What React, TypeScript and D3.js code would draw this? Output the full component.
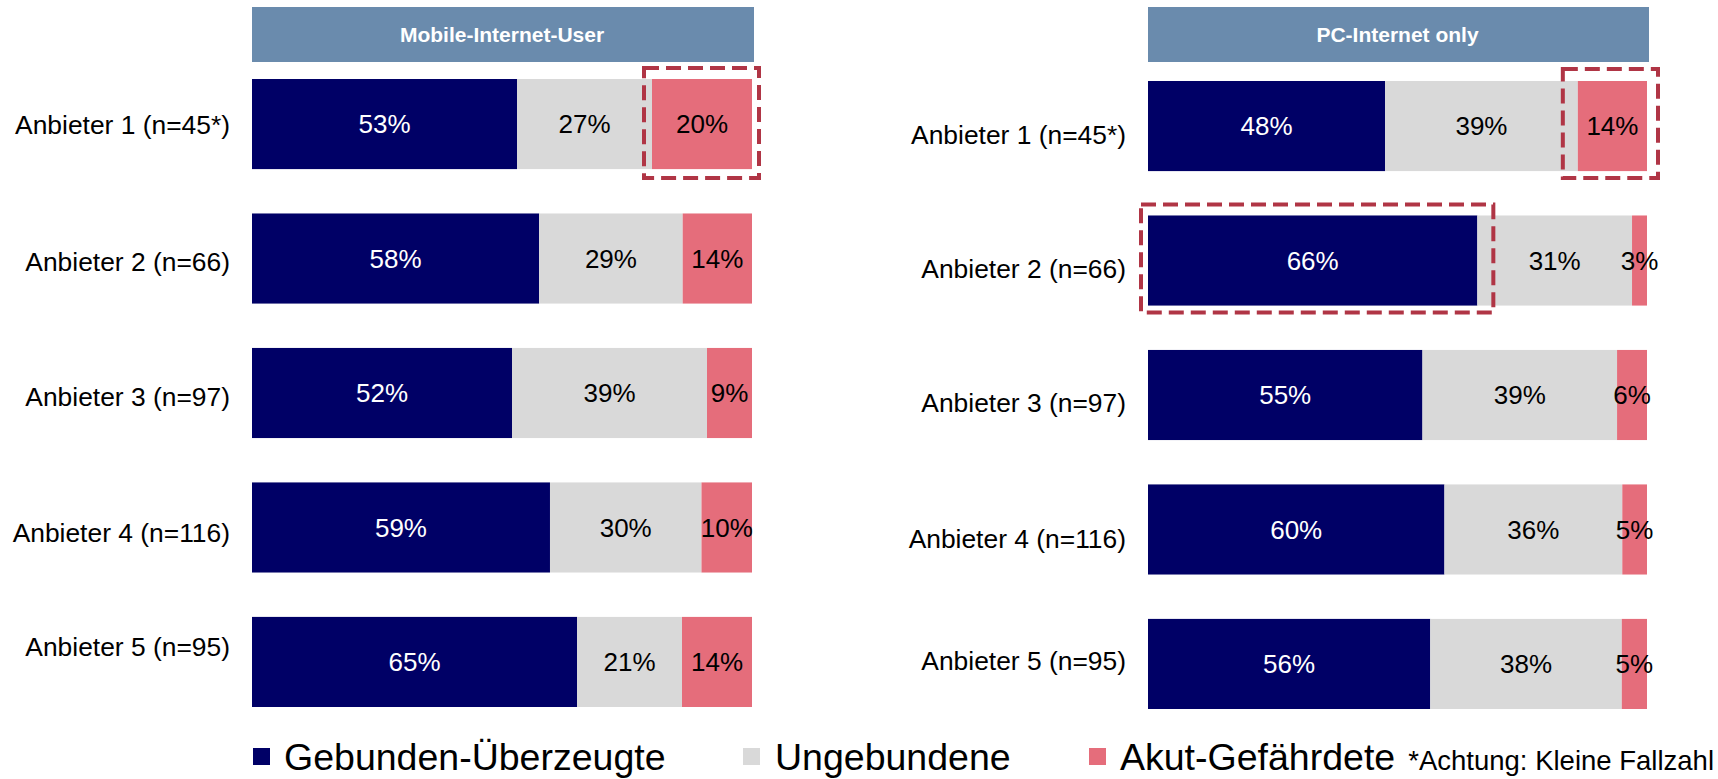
import React from "react";
import * as d3 from "d3";

// ---------- DATA ----------
const panelTitles = ["Mobile-Internet-User", "PC-Internet only"];
const categories = [
  "Anbieter 1 (n=45*)",
  "Anbieter 2 (n=66)",
  "Anbieter 3 (n=97)",
  "Anbieter 4 (n=116)",
  "Anbieter 5 (n=95)",
];
const seriesNames = ["Gebunden-Überzeugte", "Ungebundene", "Akut-Gefährdete"];

// Mobile-Internet-User
const mobileGebunden = [53, 58, 52, 59, 65];
const mobileUngebunden = [27, 29, 39, 30, 21];
const mobileAkut = [20, 14, 9, 10, 14];

// PC-Internet only
const pcGebunden = [48, 66, 55, 60, 56];
const pcUngebunden = [39, 31, 39, 36, 38];
const pcAkut = [14, 3, 6, 5, 5];

// highlighted segments (panel, row, series)
const highlights = [
  { panel: 0, row: 0, series: 2 },
  { panel: 1, row: 0, series: 2 },
  { panel: 1, row: 1, series: 0 },
];
const footnote = "*Achtung: Kleine Fallzahl";

// ---------- STYLE / LAYOUT ----------
const W = 1718;
const H = 779;
const FONT = "'Liberation Sans', Arial, Helvetica, sans-serif";
const colors = ["#000066", "#d9d9d9", "#e56d7b"];
const textColors = ["#ffffff", "#000000", "#000000"];
const headerColor = "#6a8bad";
const dashColor = "#b03545";

const panels = [
  { x0: 252, width: 500, yTop: 79, yBottom: 707, labelRight: 230, labelNudge: [0, 3, 3, 5, -15] },
  { x0: 1148, width: 499, yTop: 81, yBottom: 709, labelRight: 1126, labelNudge: [8, 8, 7, 9, -3] },
];
const headerY = 7;
const headerH = 55;
const boxPads = [
  { l: 8, r: 7, t: 11, b: 9 },
  { l: 15, r: 11, t: 12, b: 7 },
  { l: 7, r: 16, t: 11, b: 7 },
];
const legendSquareX = [253, 743, 1089];
const legendTextX = [284, 775, 1120];

const panelData = [
  [mobileGebunden, mobileUngebunden, mobileAkut],
  [pcGebunden, pcUngebunden, pcAkut],
];

export default function App() {
  const panelLayouts = panels.map((p, pi) => {
    const y = d3
      .scaleBand<string>()
      .domain(categories)
      .range([p.yTop, p.yBottom])
      .paddingInner(0.33)
      .paddingOuter(0);
    const series = panelData[pi];
    const rows = categories.map((cat, ri) => {
      const vals = series.map((s) => s[ri]);
      const total = d3.sum(vals);
      const x = d3.scaleLinear().domain([0, total]).range([p.x0, p.x0 + p.width]);
      let cum = 0;
      const segs = vals.map((v, si) => {
        const s = { x0: x(cum), x1: x(cum + v), v, si };
        cum += v;
        return s;
      });
      return { cat, y0: y(cat) as number, h: y.bandwidth(), segs };
    });
    return { p, rows };
  });

  return (
    <svg width={W} height={H} style={{ display: "block", position: "absolute", left: 0, top: 0 }} fontFamily={FONT}>
      <rect x={0} y={0} width={W} height={H} fill="#fff" />
      {panelLayouts.map(({ p, rows }, pi) => (
        <g key={pi}>
          <rect x={p.x0} y={headerY} width={p.width + 2} height={headerH} fill={headerColor} />
          <text
            x={p.x0 + p.width / 2}
            y={headerY + headerH / 2}
            dy="0.36em"
            textAnchor="middle"
            fill="#fff"
            fontWeight="bold"
            fontSize={21}
          >
            {panelTitles[pi]}
          </text>
          {rows.map((r, ri) => (
            <g key={ri}>
              <text
                x={p.labelRight}
                y={r.y0 + r.h / 2 + p.labelNudge[ri]}
                dy="0.36em"
                textAnchor="end"
                fontSize={26.4}
                fill="#000"
              >
                {r.cat}
              </text>
              {r.segs.map((s) => (
                <rect key={"r" + s.si} x={s.x0} y={r.y0} width={s.x1 - s.x0} height={r.h} fill={colors[s.si]} />
              ))}
              {r.segs.map((s) => (
                <text
                  key={"t" + s.si}
                  x={(s.x0 + s.x1) / 2}
                  y={r.y0 + r.h / 2}
                  dy="0.36em"
                  textAnchor="middle"
                  fontSize={26}
                  fill={textColors[s.si]}
                >
                  {s.v + "%"}
                </text>
              ))}
            </g>
          ))}
        </g>
      ))}
      {highlights.map((hl, i) => {
        const row = panelLayouts[hl.panel].rows[hl.row];
        const seg = row.segs[hl.series];
        const pad = boxPads[i];
        return (
          <rect
            key={i}
            x={seg.x0 - pad.l}
            y={row.y0 - pad.t}
            width={seg.x1 - seg.x0 + pad.l + pad.r}
            height={row.h + pad.t + pad.b}
            fill="none"
            stroke={dashColor}
            strokeWidth={4}
            strokeDasharray="15 7"
          />
        );
      })}
      {seriesNames.map((name, i) => (
        <g key={name}>
          <rect x={legendSquareX[i]} y={748} width={17} height={17} fill={colors[i]} />
          <text x={legendTextX[i]} y={770} fontSize={37.5} fill="#000">
            {name}
          </text>
        </g>
      ))}
      <text x={1714} y={770} textAnchor="end" fontSize={27.5} fill="#000">
        {footnote}
      </text>
    </svg>
  );
}
